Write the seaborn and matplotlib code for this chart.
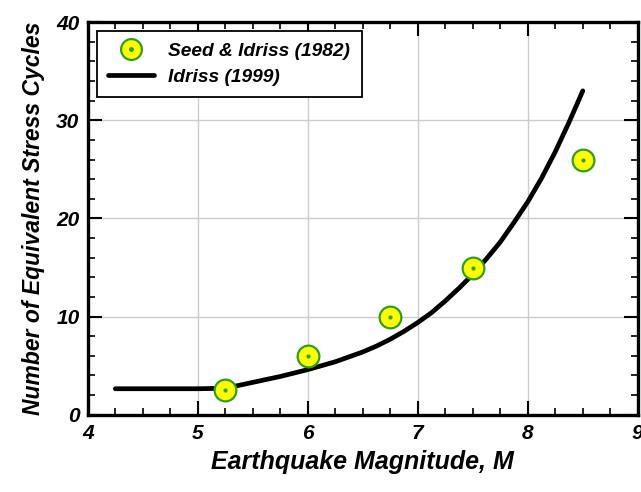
import matplotlib
matplotlib.use("Agg")
import matplotlib.pyplot as plt
import seaborn as sns
import pandas as pd
from matplotlib.lines import Line2D
from matplotlib.ticker import MultipleLocator

# Data
seed_M = [5.25, 6.0, 6.75, 7.5, 8.5]
seed_N = [2.5, 6.0, 10.0, 15.0, 26.0]
idriss_M = [4.25, 5.0, 5.25, 5.375, 5.5, 5.625, 5.75, 5.875, 6.0, 6.125, 6.25, 6.375, 6.5,
            6.625, 6.75, 6.875, 7.0, 7.125, 7.25, 7.375, 7.5, 7.625, 7.75, 7.875, 8.0,
            8.125, 8.25, 8.375, 8.5]
idriss_N = [2.65, 2.65, 2.7, 3.0, 3.3, 3.6, 3.9, 4.25, 4.6, 5.0, 5.4, 5.9, 6.4,
            7.0, 7.7, 8.5, 9.4, 10.4, 11.6, 12.9, 14.3, 15.9, 17.6, 19.6, 21.7,
            24.1, 26.8, 29.8, 33.0]

sns.set_style("white")
plt.rcParams['font.family'] = ['Liberation Sans', 'DejaVu Sans']
plt.rcParams['text.color'] = 'black'
plt.rcParams['axes.labelcolor'] = 'black'
plt.rcParams['xtick.color'] = 'black'
plt.rcParams['ytick.color'] = 'black'

fig = plt.figure(figsize=(6.41, 4.92), dpi=100)
ax = fig.add_axes([0.137, 0.157, 0.858, 0.798])

df_i = pd.DataFrame({"M": idriss_M, "N": idriss_N})
df_s = pd.DataFrame({"M": seed_M, "N": seed_N})

sns.lineplot(data=df_i, x="M", y="N", ax=ax, color="black", linewidth=3.4, zorder=3)
sns.scatterplot(data=df_s, x="M", y="N", ax=ax, s=245, color="#ffff00",
                edgecolor="#2f9e22", linewidth=1.6, zorder=4)
sns.scatterplot(data=df_s, x="M", y="N", ax=ax, s=9, color="#2f9e22",
                edgecolor="#2f9e22", linewidth=0, zorder=5)

ax.set_xlim(4, 9)
ax.set_ylim(0, 40)
ax.xaxis.set_major_locator(MultipleLocator(1))
ax.xaxis.set_minor_locator(MultipleLocator(0.25))
ax.yaxis.set_major_locator(MultipleLocator(10))
ax.yaxis.set_minor_locator(MultipleLocator(2))
ax.grid(True, which="major", color="#cccccc", linewidth=1.0, zorder=0)
ax.set_axisbelow(True)
ax.tick_params(which="both", direction="in", top=True, right=True, bottom=True, left=True)
ax.tick_params(which="major", length=10, width=1.5)
ax.tick_params(which="minor", length=5, width=1.2)
for s in ax.spines.values():
    s.set_linewidth(2.4)
    s.set_color("black")

for lab in ax.get_xticklabels() + ax.get_yticklabels():
    lab.set_fontsize(15)
    lab.set_fontweight("bold")
    lab.set_fontstyle("italic")
ax.tick_params(axis="x", pad=7)
ax.tick_params(axis="y", pad=6)

ax.set_xlabel("Earthquake Magnitude, M", fontsize=18, fontweight="bold", fontstyle="italic", labelpad=5)
ax.set_ylabel("Number of Equivalent Stress Cycles", fontsize=16.5, fontweight="bold", fontstyle="italic", labelpad=8)

h_marker = (Line2D([], [], marker="o", linestyle="none", markersize=15, markerfacecolor="#ffff00",
                   markeredgecolor="#2f9e22", markeredgewidth=1.6),
            Line2D([], [], marker="o", linestyle="none", markersize=2.5, markerfacecolor="#2f9e22",
                   markeredgecolor="#2f9e22"))
h_line = Line2D([], [], color="black", linewidth=3.4)
leg = ax.legend([h_marker, h_line], ["Seed & Idriss (1982)", "Idriss (1999)"],
                loc="upper left", bbox_to_anchor=(0.016, 0.977), borderaxespad=0,
                fancybox=False, framealpha=1,
                edgecolor="black", handlelength=2.4, borderpad=0.6, labelspacing=0.42,
                handletextpad=0.75,
                prop={"size": 13.8, "weight": "bold", "style": "italic"})
leg.get_frame().set_linewidth(1.3)

fig.savefig("out.png", dpi=100)
